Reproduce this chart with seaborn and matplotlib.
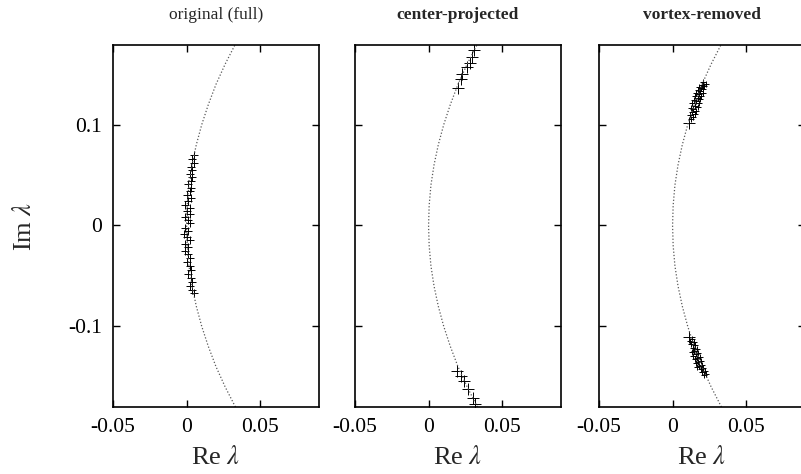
import pandas as pd
import seaborn as sns
import matplotlib.pyplot as plt

sns.set_theme(style="ticks")
plt.rcParams['font.family'] = ['Liberation Serif', 'DejaVu Serif']
plt.rcParams['mathtext.fontset'] = 'stix'
plt.rcParams['axes.unicode_minus'] = False

# %%
# dotted reference curve (Re vs Im)
curve_im = [-0.18, -0.16, -0.14, -0.12, -0.10, -0.08, -0.06, -0.04, -0.02, 0.0,
            0.02, 0.04, 0.06, 0.08, 0.10, 0.12, 0.14, 0.16, 0.18]
curve_re = [0.0332, 0.0262, 0.0200, 0.0148, 0.0103, 0.0066, 0.0037, 0.0016, 0.0004, 0.0,
            0.0004, 0.0016, 0.0037, 0.0066, 0.0103, 0.0148, 0.0200, 0.0262, 0.0332]

# original (full)
full_im = [0.070, 0.066, 0.062, 0.058, 0.055, 0.051, 0.048, 0.044, 0.041, 0.037,
           0.034, 0.030, 0.027, 0.024, 0.020, 0.017, 0.014, 0.011, 0.008, 0.005,
           0.002, -0.002, -0.005, -0.008, -0.011, -0.014, -0.018, -0.021, -0.025, -0.028,
           -0.032, -0.036, -0.040, -0.044, -0.048, -0.052, -0.056, -0.060, -0.064, -0.067]
full_re = [0.005, 0.004, 0.005, 0.003, 0.004, 0.002, 0.004, 0.003, 0.001, 0.003,
           0.002, 0.000, 0.003, 0.001, -0.001, 0.002, 0.000, 0.002, -0.001, 0.001,
           0.002, -0.001, 0.001, -0.002, 0.000, 0.002, -0.001, 0.001, -0.001, 0.001,
           0.002, 0.000, 0.002, 0.003, 0.001, 0.003, 0.004, 0.002, 0.004, 0.005]

# center-projected
proj_im = [0.174, 0.167, 0.161, 0.157, 0.150, 0.145, 0.136,
           -0.144, -0.149, -0.154, -0.162, -0.171, -0.177]
proj_re = [0.031, 0.0295, 0.028, 0.026, 0.023, 0.022, 0.020,
           0.0192, 0.0219, 0.024, 0.027, 0.030, 0.0315]

# vortex-removed: dense clusters plus two larger crosses
vort_im = [0.106, 0.108, 0.110, 0.111, 0.113, 0.114, 0.116, 0.117, 0.118, 0.119,
           0.121, 0.121, 0.123, 0.124, 0.125, 0.126, 0.128, 0.128, 0.130, 0.131,
           0.131, 0.133, 0.134, 0.135, 0.136, 0.137, 0.138, 0.139, 0.140, 0.142,
           -0.113, -0.115, -0.116, -0.118, -0.119, -0.121, -0.122, -0.124, -0.125, -0.126,
           -0.127, -0.129, -0.130, -0.131, -0.132, -0.134, -0.135, -0.136, -0.138, -0.139,
           -0.140, -0.141, -0.142, -0.144, -0.145, -0.147, -0.148]
vort_re = [0.0125, 0.0140, 0.0118, 0.0150, 0.0132, 0.0160, 0.0142, 0.0125, 0.0170, 0.0152,
           0.0135, 0.0180, 0.0160, 0.0145, 0.0188, 0.0170, 0.0155, 0.0195, 0.0178, 0.0162,
           0.0205, 0.0185, 0.0170, 0.0210, 0.0192, 0.0178, 0.0215, 0.0200, 0.0225, 0.0205,
           0.0130, 0.0120, 0.0145, 0.0128, 0.0155, 0.0138, 0.0165, 0.0148, 0.0130, 0.0175,
           0.0158, 0.0140, 0.0185, 0.0165, 0.0150, 0.0192, 0.0175, 0.0160, 0.0200, 0.0182,
           0.0168, 0.0210, 0.0190, 0.0220, 0.0200, 0.0230, 0.0212]
vort_big_im = [0.1015, -0.111]
vort_big_re = [0.0115, 0.0115]

titles = ['original (full)', 'center-projected', 'vortex-removed']
x_ticks = [-0.05, 0, 0.05]
x_ticklabels = ['-0.05', '0', '0.05']
y_ticks = [-0.1, 0, 0.1]
y_ticklabels = ['-0.1', '0', '0.1']

# %%
curve = pd.DataFrame({'re': curve_re, 'im': curve_im})
panels = [
    [(pd.DataFrame({'re': full_re, 'im': full_im}), 40)],
    [(pd.DataFrame({'re': proj_re, 'im': proj_im}), 80)],
    [(pd.DataFrame({'re': vort_re, 'im': vort_im}), 14),
     (pd.DataFrame({'re': vort_big_re, 'im': vort_big_im}), 80)],
]

fig = plt.figure(figsize=(8.01, 4.74), dpi=100)
lefts = [113, 355, 599]
W, H = 801, 474

for i, (left, title, layers) in enumerate(zip(lefts, titles, panels)):
    ax = fig.add_axes([left / W, 1 - 407 / H, 206 / W, 362 / H])
    sns.lineplot(data=curve, x='re', y='im', ax=ax, sort=False, estimator=None,
                 color='0.35', lw=0.9, linestyle=(0, (1, 1.6)))
    for df, s in layers:
        sns.scatterplot(data=df, x='re', y='im', ax=ax, marker='+', s=s,
                        color='black', linewidth=0.7)
    ax.set_xlim(-0.05, 0.09)
    ax.set_ylim(-0.18, 0.179)
    ax.set_xticks(x_ticks, x_ticklabels)
    ax.set_yticks(y_ticks, y_ticklabels if i == 0 else [])
    ax.tick_params(direction='in', top=True, right=True, length=5, width=1,
                   labelsize=15.5, pad=8, colors='black')
    for sp in ax.spines.values():
        sp.set_linewidth(1.2)
        sp.set_color('black')
    ax.set_xlabel(r'Re $\lambda$', fontsize=19)
    ax.xaxis.set_label_coords(0.5, -0.108)
    if i == 0:
        ax.set_ylabel(r'Im $\lambda$', fontsize=19)
        ax.yaxis.set_label_coords(-0.375, 0.5)
    else:
        ax.set_ylabel('')
    fig.text((left + 103) / W, 1 - 15 / H, title, ha='center', va='center',
             fontsize=12.5, fontweight='normal' if i == 0 else 'bold')

fig.savefig('out.png', dpi=100)
